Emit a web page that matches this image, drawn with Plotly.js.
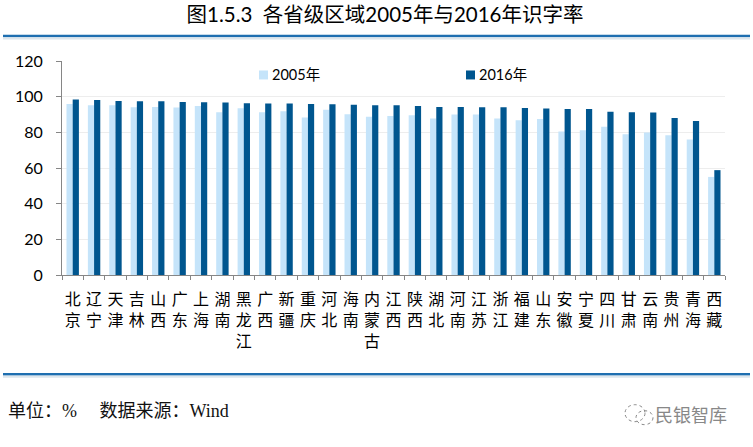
<!DOCTYPE html>
<html>
<head>
<meta charset="utf-8">
<script src="https://cdn.plot.ly/plotly-3.0.1.min.js"></script>
<style>html,body{margin:0;padding:0;background:#fff;}#c{width:753px;height:447px;}</style>
</head>
<body>
<div id="c"></div>
<script>
const provinces = ["北京","辽宁","天津","吉林","山西","广东","上海","湖南","黑龙江","广西","新疆","重庆","河北","海南","内蒙古","江西","陕西","湖北","河南","江苏","浙江","福建","山东","安徽","宁夏","四川","甘肃","云南","贵州","青海","西藏"];
const rate2005 = [95.9,95.2,95.2,94.1,94.2,93.9,94.8,91.3,93.5,91.3,91.8,88.3,92.6,90.1,88.7,89.2,89.6,87.7,90.0,90.0,87.7,86.8,87.5,80.4,81.2,83.2,78.9,79.9,78.4,76.0,55.0];
const rate2016 = [98.4,98.2,97.6,97.4,97.4,97.0,96.9,96.7,96.3,96.1,96.1,95.9,95.7,95.4,95.2,95.2,94.8,94.2,94.2,94.1,94.1,93.7,93.3,93.1,93.1,91.6,91.3,91.1,88.1,86.4,58.8];
const seriesNames = ["2005年","2016年"];
const seriesColors = ["#C5E4FA","#00568F"];
const W = 753, H = 447;
const numFont = "Lato, 'Noto Sans CJK SC', sans-serif";
const cjkFont = "'Noto Sans CJK SC', sans-serif";
const labels = provinces.map(p => Array.from(p).join("<br>"));
const m = {l:62, r:28, t:60.5, b:172};
const pw = W - m.l - m.r, ph = H - m.t - m.b;
const fx = v => (v - m.l) / pw, fy = v => (H - m.b - v) / ph;
const hline = (y, w, c) => ({type:"line", xref:"paper", yref:"paper", x0:fx(3), x1:fx(750), y0:fy(y), y1:fy(y), line:{color:c, width:w}});
const circle = (x0,y0,x1,y1) => ({type:"circle", xref:"paper", yref:"paper", x0:fx(x0), x1:fx(x1), y0:fy(y0), y1:fy(y1), line:{color:"#888", width:1, dash:"dot"}});
const swatch = (x, c) => ({type:"rect", xref:"paper", yref:"paper", x0:fx(x), x1:fx(x+9), y0:fy(70), y1:fy(79), fillcolor:c, line:{width:0}});
const note = (text, x, y, anchor, font) => ({text, xref:"paper", yref:"paper", x:fx(x), y:fy(y), xanchor:anchor, yanchor:"middle", showarrow:false, font});
const data = [
  {type:"bar", name:seriesNames[0], x:labels, y:rate2005, marker:{color:seriesColors[0]}},
  {type:"bar", name:seriesNames[1], x:labels, y:rate2016, marker:{color:seriesColors[1]}}
];
const layout = {
  width:W, height:H, margin:m, paper_bgcolor:"#fff", plot_bgcolor:"#fff",
  barmode:"group", bargap:0.42, bargroupgap:0,
  font:{family:numFont, color:"#000"},
  title:{text:"图1.5.3  各省级区域2005年与2016年识字率", x:fx(385), xref:"paper", xanchor:"center", y:1-15/H, yanchor:"middle",
         font:{family:numFont, size:20.5, color:"#000"}},
  xaxis:{range:[-0.5,30.5], type:"category", tickson:"boundaries", ticks:"outside", ticklen:4, tickcolor:"#868686", tickwidth:1,
         showline:true, linecolor:"#868686", linewidth:1, showgrid:false, tickangle:0, ticklabelstandoff:10,
         tickfont:{family:numFont, size:16, color:"#000"}},
  yaxis:{range:[0,120], tickvals:[0,20,40,60,80,100,120], ticks:"outside", ticklen:5, tickcolor:"#868686", tickwidth:1,
         showline:true, linecolor:"#868686", linewidth:1, showgrid:true, gridcolor:"#EDEDED", gridwidth:1, zeroline:false,
         ticklabelstandoff:10, tickfont:{family:numFont, size:16, color:"#000"}},
  showlegend:false,
  shapes:[ hline(35.5,2.5,"#1F6FB0"), hline(374.5,2.5,"#1F6FB0"), hline(38,2,"#DDE6EC"), hline(377,2,"#DDE6EC"),
           circle(625,405,645,422), circle(636,411,653,425),
           swatch(259,seriesColors[0]), swatch(466,seriesColors[1]) ],
  annotations:[
    note(seriesNames[0], 270, 74, "left", {family:numFont, size:14.5, color:"#000"}),
    note(seriesNames[1], 477, 74, "left", {family:numFont, size:14.5, color:"#000"}),
    note("单位：%&nbsp;&nbsp;&nbsp;&nbsp;&nbsp;数据来源：Wind", 6, 411, "left", {family:"'Liberation Serif', 'Noto Sans CJK SC', serif", size:18, color:"#111"}),
    note("民银智库", 729, 414, "right", {family:cjkFont, size:18, color:"#888"})
  ]
};
Plotly.newPlot("c", data, layout, {displayModeBar:false});
</script>
</body>
</html>
